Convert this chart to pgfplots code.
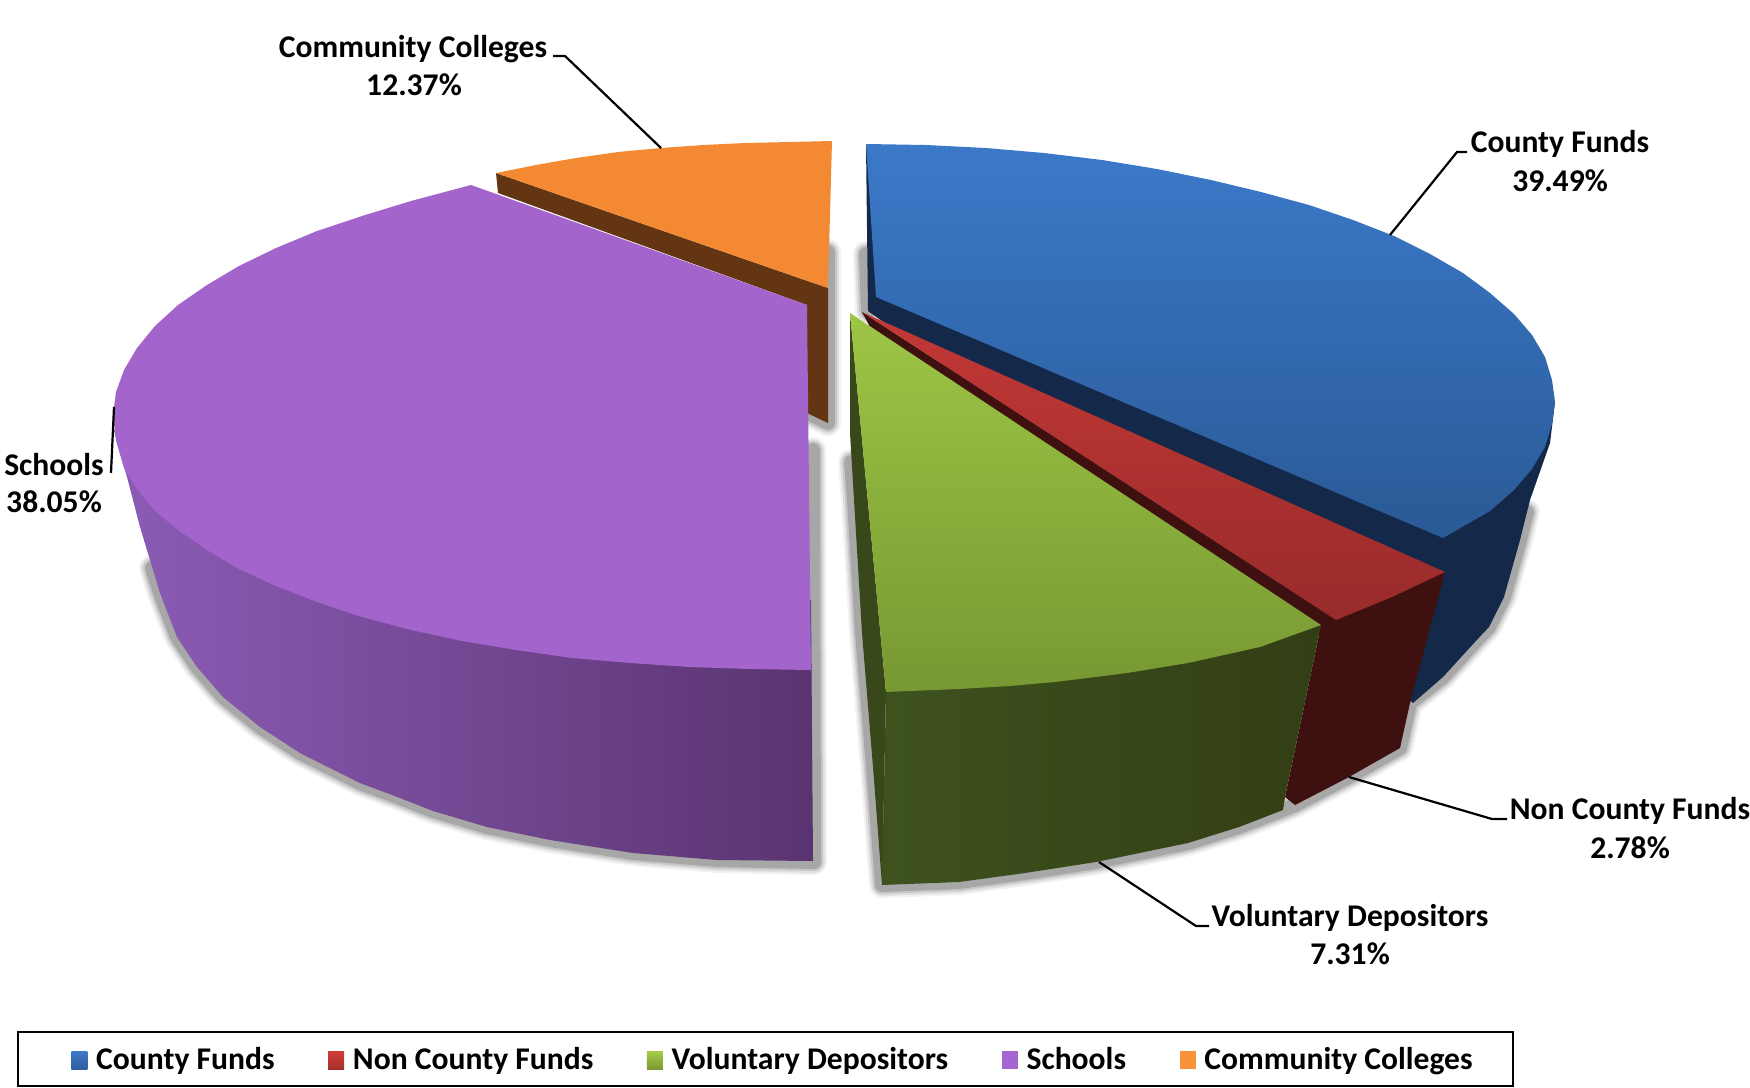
\documentclass[border=0pt]{standalone}
\usepackage{fontspec}
\setmainfont{Carlito}
\usepackage{pgfplots}
\pgfplotsset{compat=1.18}
\definecolor{navy}{HTML}{14294A}
\definecolor{wine}{HTML}{3F1010}
\definecolor{brownw}{HTML}{633513}
\newcommand{\lab}{\bfseries\fontsize{15.8}{18}\selectfont}
\tikzset{face/.style={draw=none},
 sh0/.style={draw=black,opacity=.05,line width=13pt,line join=round,line cap=round},
 sh1/.style={draw=black,opacity=.08,line width=11pt,line join=round,line cap=round},
 sh2/.style={draw=black,opacity=.11,line width=9pt,line join=round,line cap=round},
 sh3/.style={draw=black,opacity=.16,line width=7pt,line join=round,line cap=round}}
\begin{document}
\begin{tikzpicture}
\useasboundingbox (0,0) rectangle (875pt,543.5pt);
\begin{axis}[at={(0,0)},anchor=south west,scale only axis,width=875pt,height=543.5pt,
  xmin=0,xmax=1750,ymin=0,ymax=1087,y dir=reverse,hide axis,clip=false,
  legend columns=5,
  legend style={at={(axis cs:71,1060)},anchor=west,draw=none,fill=none,inner xsep=0pt,inner ysep=0pt,
    font=\lab,cells={anchor=west},nodes={inner xsep=4.4pt,inner ysep=1pt},
    /tikz/every even column/.append style={column sep=22.4pt}}]
% shadows
\pgfplotsinvokeforeach{sh0,sh1,sh2,sh3}{
\addplot[#1,forget plot] coordinates {(813,450)(814,862)(717,860)(633,853)(550,840)(487,827)(433,811)(400,798)(360,783)(300,753)(260,727)(223,697)(197,667)(177,637)(160,593)(152,568)};
\addplot[#1,forget plot] coordinates {(828,252)(828,423)(810,414)};
\addplot[#1,forget plot] coordinates {(866,254)(868,311)};
\addplot[#1,forget plot] coordinates {(851,462)(854,500)(862,633)(873,767)(882,885)(959,882)(1025,873)(1096,862)(1188,843)(1239,827)(1283,810)(1295,805)(1349,777)(1400,748)(1410,703)(1443,677)(1474,643)(1489,627)(1504,597)(1520,540)(1527,512)};
}
% blue
\addplot[face,fill=navy,forget plot] coordinates {(866,144)(868,311)(1413,703)(1443,677)(1474,643)(1489,627)(1504,597)(1520,540)(1530,500)(1550,443)(1555,402)};
\addplot[face,shade,top color={rgb,255:red,59;green,121;blue,201},bottom color={rgb,255:red,42;green,90;blue,150},
 legend image code/.code={\path[shade,top color={rgb,255:red,59;green,121;blue,201},bottom color={rgb,255:red,47;green,95;blue,159}] (0pt,-4.5pt) rectangle (8pt,4.5pt);}]
 coordinates {(866,144)(926,145)(986,148)(1044,153)(1102,160)(1157,169)(1211,180)(1261,192)(1309,205)(1353,220)(1394,236)(1430,254)(1463,273)(1490,293)(1514,314)(1532,335)(1545,357)(1552,380)(1555,402)(1552,424)(1545,447)(1532,469)(1514,490)(1490,511)(1443,538)(876,297)};
\addlegendentry{County Funds}
% red
\addplot[face,fill=wine,forget plot] coordinates {(1445,572)(1336,620)(1321,625)(1285,797)(1295,805)(1349,777)(1400,748)(1410,703)};
\addplot[face,fill=wine,forget plot] coordinates {(862,312)(870,327)(1321,625)(1336,620)};
\addplot[face,shade,top color={rgb,255:red,195;green,56;blue,53},bottom color={rgb,255:red,152;green,43;blue,43},
 legend image code/.code={\path[shade,top color={rgb,255:red,212;green,61;blue,57},bottom color={rgb,255:red,165;green,46;blue,44}] (0pt,-4.5pt) rectangle (8pt,4.5pt);}]
 coordinates {(862,312)(1445,572)(1392,597)(1336,620)};
\addlegendentry{Non County Funds}
% green
\addplot[face,shade,left color={rgb,255:red,62;green,82;blue,30},right color={rgb,255:red,50;green,62;blue,20},forget plot]
 coordinates {(886,692)(882,885)(959,882)(1025,873)(1096,862)(1188,843)(1239,827)(1283,810)(1285,797)(1321,625)};
\addplot[face,fill={rgb,255:red,56;green,72;blue,26},forget plot] coordinates {(850,313)(850,433)(854,500)(862,633)(873,767)(882,885)(886,692)};
\addplot[face,shade,top color={rgb,255:red,158;green,198;blue,69},bottom color={rgb,255:red,119;green,152;blue,50},
 legend image code/.code={\path[shade,top color={rgb,255:red,165;green,204;blue,74},bottom color={rgb,255:red,123;green,154;blue,52}] (0pt,-4.5pt) rectangle (8pt,4.5pt);}]
 coordinates {(850,313)(1321,625)(1260,647)(1188,663)(1127,673)(1055,682)(1010,686)(959,689)(886,692)};
\addlegendentry{Voluntary Depositors}
% brown wall, purple
\addplot[face,fill=brownw,forget plot] coordinates {(496,173)(828,288)(828,423)(807,413)(807,305)(498,193)};
\addplot[face,shade,left color={rgb,255:red,140;green,92;blue,182},right color={rgb,255:red,90;green,52;blue,112},forget plot]
 coordinates {(114,430)(117,443)(127,477)(140,527)(160,593)(177,637)(197,667)(223,697)(260,727)(300,753)(360,783)(400,798)(433,811)(487,827)(550,840)(633,853)(717,860)(813,861)(811,600)(400,400)};
\addplot[face,fill={rgb,255:red,163;green,100;blue,204},
 legend image code/.code={\path[fill={rgb,255:red,165;green,102;blue,209}] (0pt,-4.5pt) rectangle (8pt,4.5pt);}]
 coordinates {(471,185)(411,201)(362,216)(317,231)(276,248)(239,266)(207,285)(178,305)(155,326)(137,348)(124,370)(116,392)(113,415)(116,440)(124,468)(137,489)(155,511)(178,530)(207,550)(239,569)(276,586)(317,602)(362,617)(411,630)(462,641)(516,650)(572,658)(630,663)(690,667)(750,669)(811,670)(807,305)};
\addlegendentry{Schools}
% orange
\addplot[face,fill={rgb,255:red,243;green,138;blue,51},
 legend image code/.code={\path[fill={rgb,255:red,247;green,146;blue,57}] (0pt,-4.5pt) rectangle (8pt,4.5pt);}]
 coordinates {(496,173)(536,165)(576,158)(618,152)(661,148)(703,145)(745,143)(790,142)(832,141)(828,288)};
\addlegendentry{Community Colleges}
% leaders
\addplot[black,line width=1.1pt,forget plot] coordinates {(553,56)(565,56)(661,148)};
\addplot[black,line width=1.1pt,forget plot] coordinates {(1467,152)(1457,152)(1390,235)};
\addplot[black,line width=1.1pt,forget plot] coordinates {(1507,819)(1492,819)(1349,777)};
\addplot[black,line width=1.1pt,forget plot] coordinates {(1209,926)(1196,926)(1099,862)};
\addplot[black,line width=1.1pt,forget plot] coordinates {(114,407)(111,473)};
% legend frame
\addplot[black,line width=.7pt,forget plot] coordinates {(18,1032)(18,1086)(1513,1086)(1513,1032)};
\addplot[black,line width=1.4pt,forget plot] coordinates {(17,1032)(1514,1032)};
% labels
\node[font=\lab] at (axis cs:413,49) {Community Colleges};
\node[font=\lab] at (axis cs:414,85) {12.37\%};
\node[font=\lab] at (axis cs:1560,144) {County Funds};
\node[font=\lab] at (axis cs:1560,181) {39.49\%};
\node[font=\lab] at (axis cs:1630,811) {Non County Funds};
\node[font=\lab] at (axis cs:1630,848) {2.78\%};
\node[font=\lab] at (axis cs:1350,918) {Voluntary Depositors};
\node[font=\lab] at (axis cs:1350,954) {7.31\%};
\node[font=\lab] at (axis cs:54,465) {Schools};
\node[font=\lab] at (axis cs:54,502) {38.05\%};
\end{axis}
\end{tikzpicture}
\end{document}
